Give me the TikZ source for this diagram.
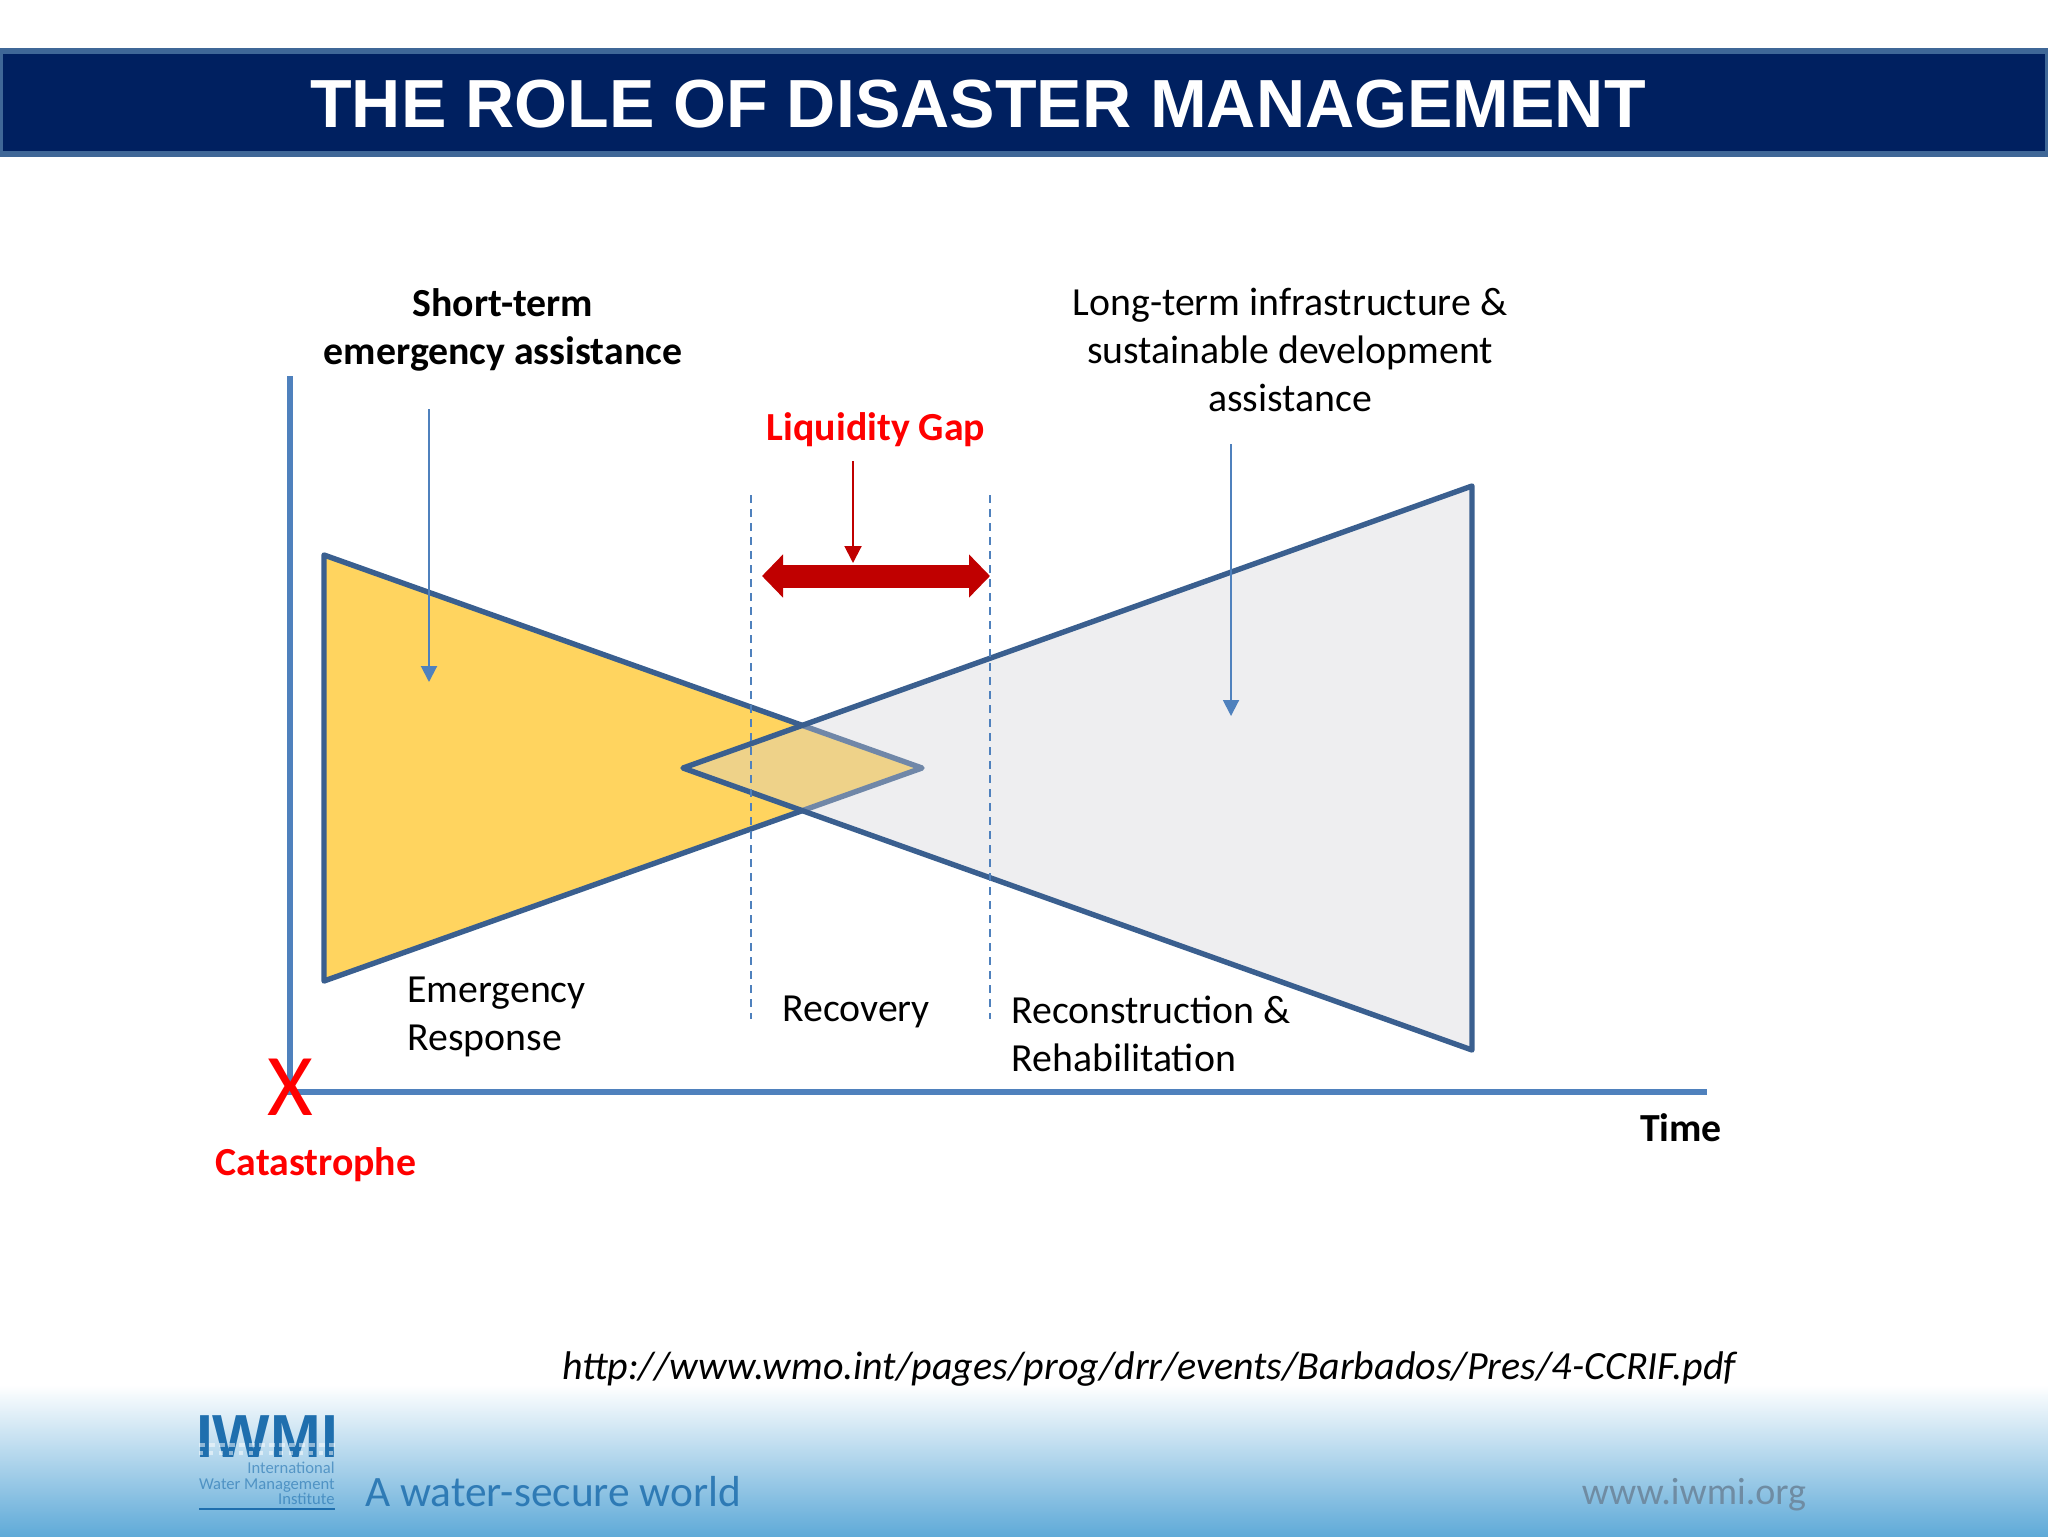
\documentclass[tikz,border=0pt]{standalone}
\usepackage{fontspec}
\setmainfont{Carlito}
\newfontfamily\titlefont{Liberation Sans}
\usepackage{xcolor}
\usetikzlibrary{arrows.meta}
\definecolor{barblue}{HTML}{002060}
\definecolor{barline}{HTML}{3F6797}
\definecolor{axisblue}{HTML}{4F81BD}
\definecolor{triline}{HTML}{3A5F8F}
\definecolor{triyellow}{HTML}{FFD45F}
\definecolor{trigray}{HTML}{D0D0D6}
\definecolor{gapred}{HTML}{C00000}
\definecolor{footblue}{HTML}{5FAAD8}
\definecolor{logoblue}{HTML}{1F6FAE}
\definecolor{urlgray}{HTML}{6F8CA3}
\tikzset{>=latex}
\begin{document}
\begin{tikzpicture}[x=0.5pt, y=-0.5pt]
    \tikzstyle{every node}=[inner sep=0pt, font=\fontsize{19.9pt}{24pt}\selectfont]
    \tikzstyle{axis}=[axisblue, line width=3pt, line join=miter]
    \tikzstyle{tri}=[triline, line width=2.7pt, line join=round]
    \tikzstyle{guide}=[axisblue, line width=1pt, dash pattern=on 4pt off 3pt]
    \tikzstyle{pointer}=[axisblue, line width=1pt, -{Triangle[length=8pt, width=8pt]}]
    \tikzstyle{body}=[align=center, anchor=center]
    \useasboundingbox (0, 0) rectangle (2048, 1536);

    % footer and title bar
    \shade[top color=white, bottom color=footblue] (0, 1385) rectangle (2048, 1536);
    \draw[barline, fill=barblue, line width=3pt] (0, 51) rectangle (2048, 154);
    \node[font=\titlefont\bfseries\fontsize{34.05pt}{40pt}\selectfont, white] (title) at (978, 104) {THE ROLE OF DISASTER MANAGEMENT};

    % triangles, the gray one is see-through
    \coordinate (Ya) at (324, 555);
    \coordinate (Yb) at (324, 981);
    \coordinate (Yc) at (922, 768);
    \coordinate (Ga) at (1472, 486);
    \coordinate (Gb) at (1472, 1050);
    \coordinate (Gc) at (683, 768);
    \draw[tri, fill=triyellow] (Ya) -- (Yc) -- (Yb) -- cycle;
    \fill[trigray, opacity=0.36] (Ga) -- (Gc) -- (Gb) -- cycle;
    \draw[tri] (Ga) -- (Gc) -- (Gb) -- cycle;

    % axes
    \coordinate (O) at (290, 1092);
    \coordinate (Ytop) at (290, 376);
    \coordinate (Xend) at (1707, 1092);
    \draw[axis] (Ytop) -- (O) -- (Xend);

    % gap markers
    \coordinate (La) at (751, 495);
    \coordinate (Lb) at (751, 1019);
    \coordinate (Ra) at (990, 495);
    \coordinate (Rb) at (990, 1019);
    \draw[guide] (La) -- (Lb);
    \draw[guide] (Ra) -- (Rb);
    \coordinate (Gl) at (762, 576);
    \coordinate (Gr) at (990, 576);
    \draw[gapred, line width=11.5pt, {Triangle[length=10.5pt, width=21pt]}-{Triangle[length=10.5pt, width=21pt]}] (Gl) -- (Gr);
    \coordinate (Pa) at (853, 461);
    \coordinate (Pb) at (853, 563);
    \draw[gapred, line width=1pt, -{Triangle[length=8.5pt, width=8.5pt]}] (Pa) -- (Pb);

    % pointers from the headings
    \coordinate (Sa) at (429, 409);
    \coordinate (Sb) at (429, 682);
    \coordinate (La2) at (1231, 444);
    \coordinate (Lb2) at (1231, 716);
    \draw[pointer] (Sa) -- (Sb);
    \draw[pointer] (La2) -- (Lb2);

    % labels
    \node[body, font=\bfseries\fontsize{19.9pt}{24pt}\selectfont] (short) at (503, 330) {Short-term\\emergency assistance};
    \node[body] (long) at (1290, 350) {Long-term infrastructure \&\\sustainable development\\assistance};
    \node[body, red, font=\bfseries\fontsize{19.9pt}{24pt}\selectfont] (gap) at (876, 430) {Liquidity Gap};
    \node[align=left, anchor=west] (emerg) at (407, 1017) {Emergency\\Response};
    \node[anchor=west] (recov) at (782, 1012) {Recovery};
    \node[align=left, anchor=west] (recon) at (1011, 1034) {Reconstruction \&\\Rehabilitation};
    \node[red, draw=red, line width=0.7pt, font=\fontsize{44pt}{50pt}\selectfont, rectangle, draw opacity=0, text=red] (X) at (290, 1087) {X};
    \node[red, font=\bfseries\fontsize{19.9pt}{24pt}\selectfont] (cata) at (316, 1165) {Catastrophe};
    \node[font=\bfseries\fontsize{19.9pt}{24pt}\selectfont] (time) at (1681, 1128) {Time};
    \node[font=\itshape\fontsize{20pt}{24pt}\selectfont] (url) at (1149, 1369) {http://www.wmo.int/pages/prog/drr/events/Barbados/Pres/4-CCRIF.pdf};

    % logo and footer text
    \node[logoblue, anchor=north, font=\titlefont\bfseries\fontsize{30.4pt}{30pt}\selectfont] (iwmi) at (267, 1415) {IWMI};
    \draw[white, opacity=0.5, line width=2pt, dash pattern=on 3pt off 2pt] (199, 1445) -- (335, 1445);
    \draw[white, opacity=0.5, line width=2pt, dash pattern=on 2pt off 3pt] (199, 1453) -- (335, 1453);
    \node[logoblue, opacity=0.6, align=right, anchor=north east, font=\fontsize{8.3pt}{7.7pt}\selectfont] (inst) at (335, 1462) {International\\Water Management\\Institute};
    \coordinate (Ua) at (199, 1509);
    \coordinate (Ub) at (335, 1509);
    \draw[logoblue, line width=0.8pt] (Ua) -- (Ub);
    \node[logoblue, opacity=0.85, anchor=west, font=\fontsize{21.7pt}{28pt}\selectfont] (slogan) at (365, 1492) {A water-secure world};
    \node[urlgray, font=\fontsize{19pt}{26pt}\selectfont] (web) at (1694, 1495) {www.iwmi.org};
\end{tikzpicture}
\end{document}
